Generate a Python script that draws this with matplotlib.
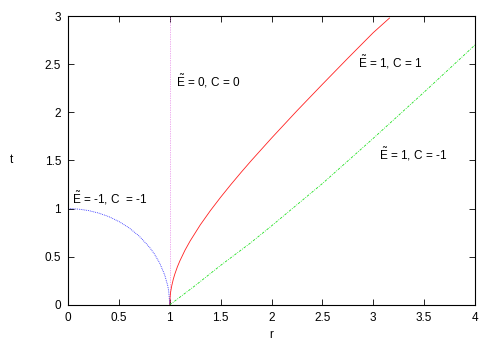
import matplotlib
matplotlib.use("Agg")
import matplotlib.pyplot as plt

plt.rcParams['font.family'] = ['Liberation Sans', 'DejaVu Sans']
plt.rcParams['mathtext.fontset'] = 'custom'
plt.rcParams['mathtext.rm'] = 'Liberation Sans'
plt.rcParams['mathtext.it'] = 'Liberation Sans'

# E=-1, C=-1 (blue, dotted)
r_blue = [0, 0.1, 0.2, 0.3, 0.4, 0.5, 0.6, 0.7, 0.8, 0.85, 0.9, 0.95, 0.98, 0.99, 1.0]
t_blue = [1.0, 0.995, 0.98, 0.954, 0.917, 0.866, 0.8, 0.714, 0.6, 0.527, 0.436, 0.312, 0.2, 0.14, 0.0]

# E=1, C=1 (red, solid)
r_red = [1.0, 1.002, 1.005, 1.01, 1.02, 1.035, 1.05, 1.075, 1.1, 1.15, 1.2, 1.3, 1.4, 1.5,
         1.6, 1.7, 1.8, 2.0, 2.25, 2.5, 2.75, 3.0, 3.16]
t_red = [0.0, 0.063, 0.1, 0.142, 0.2, 0.267, 0.32, 0.395, 0.458, 0.568, 0.663, 0.831, 0.98, 1.118,
         1.249, 1.375, 1.497, 1.732, 2.016, 2.291, 2.562, 2.828, 2.98]

# E=1, C=-1 (green, dash-dot)
r_green = [1.0, 1.25, 1.5, 1.79, 2.0, 2.5, 3.0, 3.5, 4.0]
t_green = [0.0, 0.2, 0.41, 0.64, 0.82, 1.26, 1.73, 2.21, 2.7]

# E=0, C=0 (vertical line)
r_vert = [1, 1]
t_vert = [0, 3]

fig = plt.figure(figsize=(5, 3.5), dpi=100)
ax = fig.add_axes([0.136, 0.129, 0.814, 0.825])

ax.plot(r_vert, t_vert, color='#e060e0', lw=0.5, ls=(0, (1, 1.5)))
ax.plot(r_red, t_red, color='#ff2020', lw=0.6, clip_on=True)
ax.plot(r_green, t_green, color='#20e020', lw=0.6, ls=(0, (3, 1.5, 1, 1.5)))
ax.plot(r_blue, t_blue, color='#2020ff', lw=0.6, ls=(0, (1, 1.2)))

ax.set_xlim(0, 4)
ax.set_ylim(0, 3)
ax.set_xticks([0, 0.5, 1, 1.5, 2, 2.5, 3, 3.5, 4])
ax.set_xticklabels(['0', '0.5', '1', '1.5', '2', '2.5', '3', '3.5', '4'])
ax.set_yticks([0, 0.5, 1, 1.5, 2, 2.5, 3])
ax.set_yticklabels(['0', '0.5', '1', '1.5', '2', '2.5', '3'])
ax.tick_params(direction='in', top=True, right=True, length=4, width=0.6,
               labelsize=8.5, pad=5)
for s in ax.spines.values():
    s.set_linewidth(0.8)

ax.set_xlabel('r', fontsize=8.5, labelpad=4)
ax.set_ylabel('t', fontsize=8.5, rotation=0, labelpad=24, va='center')

fs = 8.5
ax.text(1.06, 2.32, r'$\tilde{\mathrm{E}}$ = 0, C = 0', fontsize=fs, va='center')
ax.text(2.85, 2.52, r'$\tilde{\mathrm{E}}$ = 1, C = 1', fontsize=fs, va='center')
ax.text(3.06, 1.56, r'$\tilde{\mathrm{E}}$ = 1, C = -1', fontsize=fs, va='center')
ax.text(0.04, 1.11, r'$\tilde{\mathrm{E}}$ = -1, C  = -1', fontsize=fs, va='center')

fig.savefig('out.png', dpi=100)
